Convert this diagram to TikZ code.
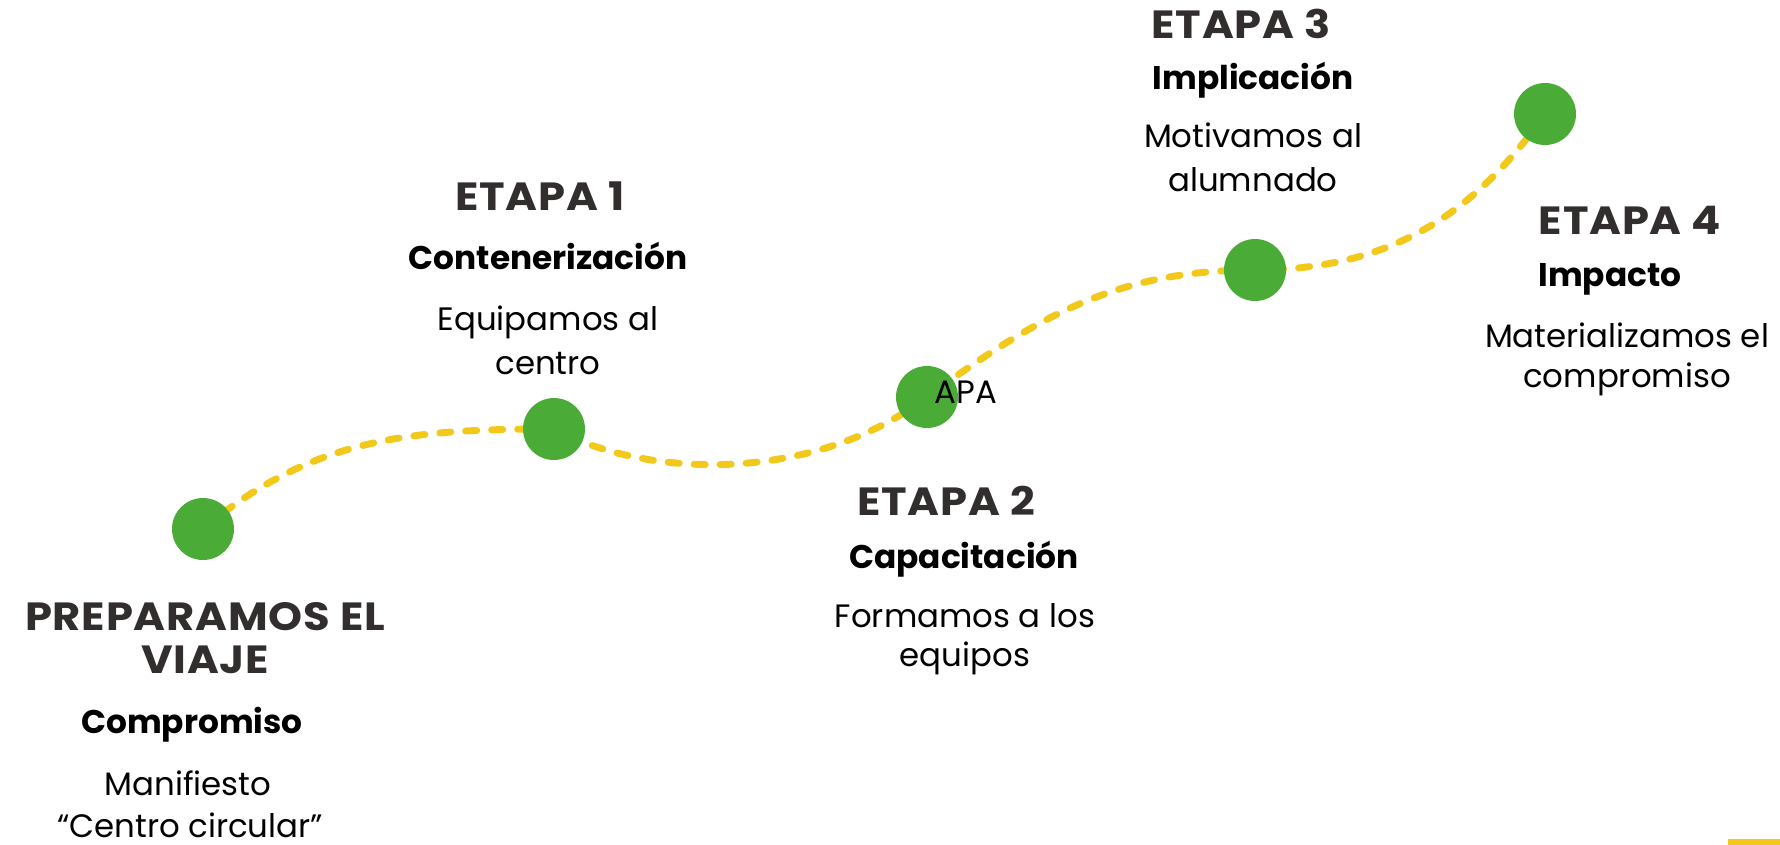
\documentclass[tikz,border=0pt]{standalone}
\usepackage{fontspec}
\setmainfont{Poppins}
\newfontfamily\headfont[FakeStretch=1.1,LetterSpace=2]{Poppins}
\definecolor{dotgreen}{HTML}{4AAB36}
\definecolor{pathyellow}{HTML}{F2C81A}
\definecolor{headgray}{HTML}{322E2E}
\tikzset{
  dot/.style={circle,fill=dotgreen,draw=none,minimum size=46.5pt,inner sep=0pt},
  trail/.style={pathyellow,line width=5.2pt,line cap=round,dash pattern=on 8.3pt off 11.2pt},
  headtxt/.style={anchor=base,inner sep=0pt,text=headgray,font=\headfont\fontsize{29.5}{34}\selectfont\bfseries},
  subtxt/.style={anchor=base,inner sep=0pt,text=black,font=\fontsize{24.6}{29}\selectfont\bfseries},
  bodytxt/.style={anchor=base,inner sep=0pt,text=black,font=\fontsize{24.3}{28}\selectfont},
}
\begin{document}
\begin{tikzpicture}[x=0.75pt,y=-0.75pt]
\useasboundingbox (0,0) rectangle (1780,845);
\coordinate (p1) at (203,529);
\coordinate (p2) at (554,429);
\coordinate (p3) at (927,397);
\coordinate (p4) at (1255,270);
\coordinate (p5) at (1545,114);
\draw[trail] (p1) to[out=40,in=180] (p2)
  .. controls (650,480) and (815,482) .. (p3)
  to[out=36,in=180] (p4)
  to[out=0,in=235] (p5);
\node[dot] (c1) at (p1) {};
\node[dot] (c2) at (p2) {};
\node[dot] (c3) at (p3) {};
\node[dot] (c4) at (p4) {};
\node[dot] (c5) at (p5) {};
% texts
\node[headtxt] (h0a) at (205,630) {PREPARAMOS EL};
\node[headtxt] (h0b) at (205,673) {VIAJE};
\node[subtxt] (s0) at (192,733) {Compromiso};
\node[bodytxt] (b0a) at (188,795) {Manifiesto};
\node[bodytxt] (b0b) at (190,837) {“Centro circular”};

\node[headtxt] (h1) at (540,210) {ETAPA 1};
\node[subtxt] (s1) at (548,269) {Contenerización};
\node[bodytxt] (b1a) at (548,330) {Equipamos al};
\node[bodytxt] (b1b) at (548,374) {centro};

\node[headtxt] (h2) at (946,515) {ETAPA 2};
\node[subtxt] (s2) at (964,568) {Capacitación};
\node[bodytxt] (b2a) at (965,627) {Formamos a los};
\node[bodytxt] (b2b) at (965,666) {equipos};

\node[headtxt] (h3) at (1241,39) {ETAPA 3};
\node[subtxt] (s3) at (1253,90) {Implicación};
\node[bodytxt] (b3a) at (1253,148) {Motivamos al};
\node[bodytxt] (b3b) at (1253,191) {alumnado};

\node[headtxt] (h4) at (1630,234) {ETAPA 4};
\node[subtxt] (s4) at (1610,286) {Impacto};
\node[bodytxt] (b4a) at (1627,347) {Materializamos el};
\node[bodytxt] (b4b) at (1627,387) {compromiso};

\node[bodytxt] (apa) at (966,403) {APA};

\fill[pathyellow] (1728,839) rectangle (1780,845);
\end{tikzpicture}
\end{document}
